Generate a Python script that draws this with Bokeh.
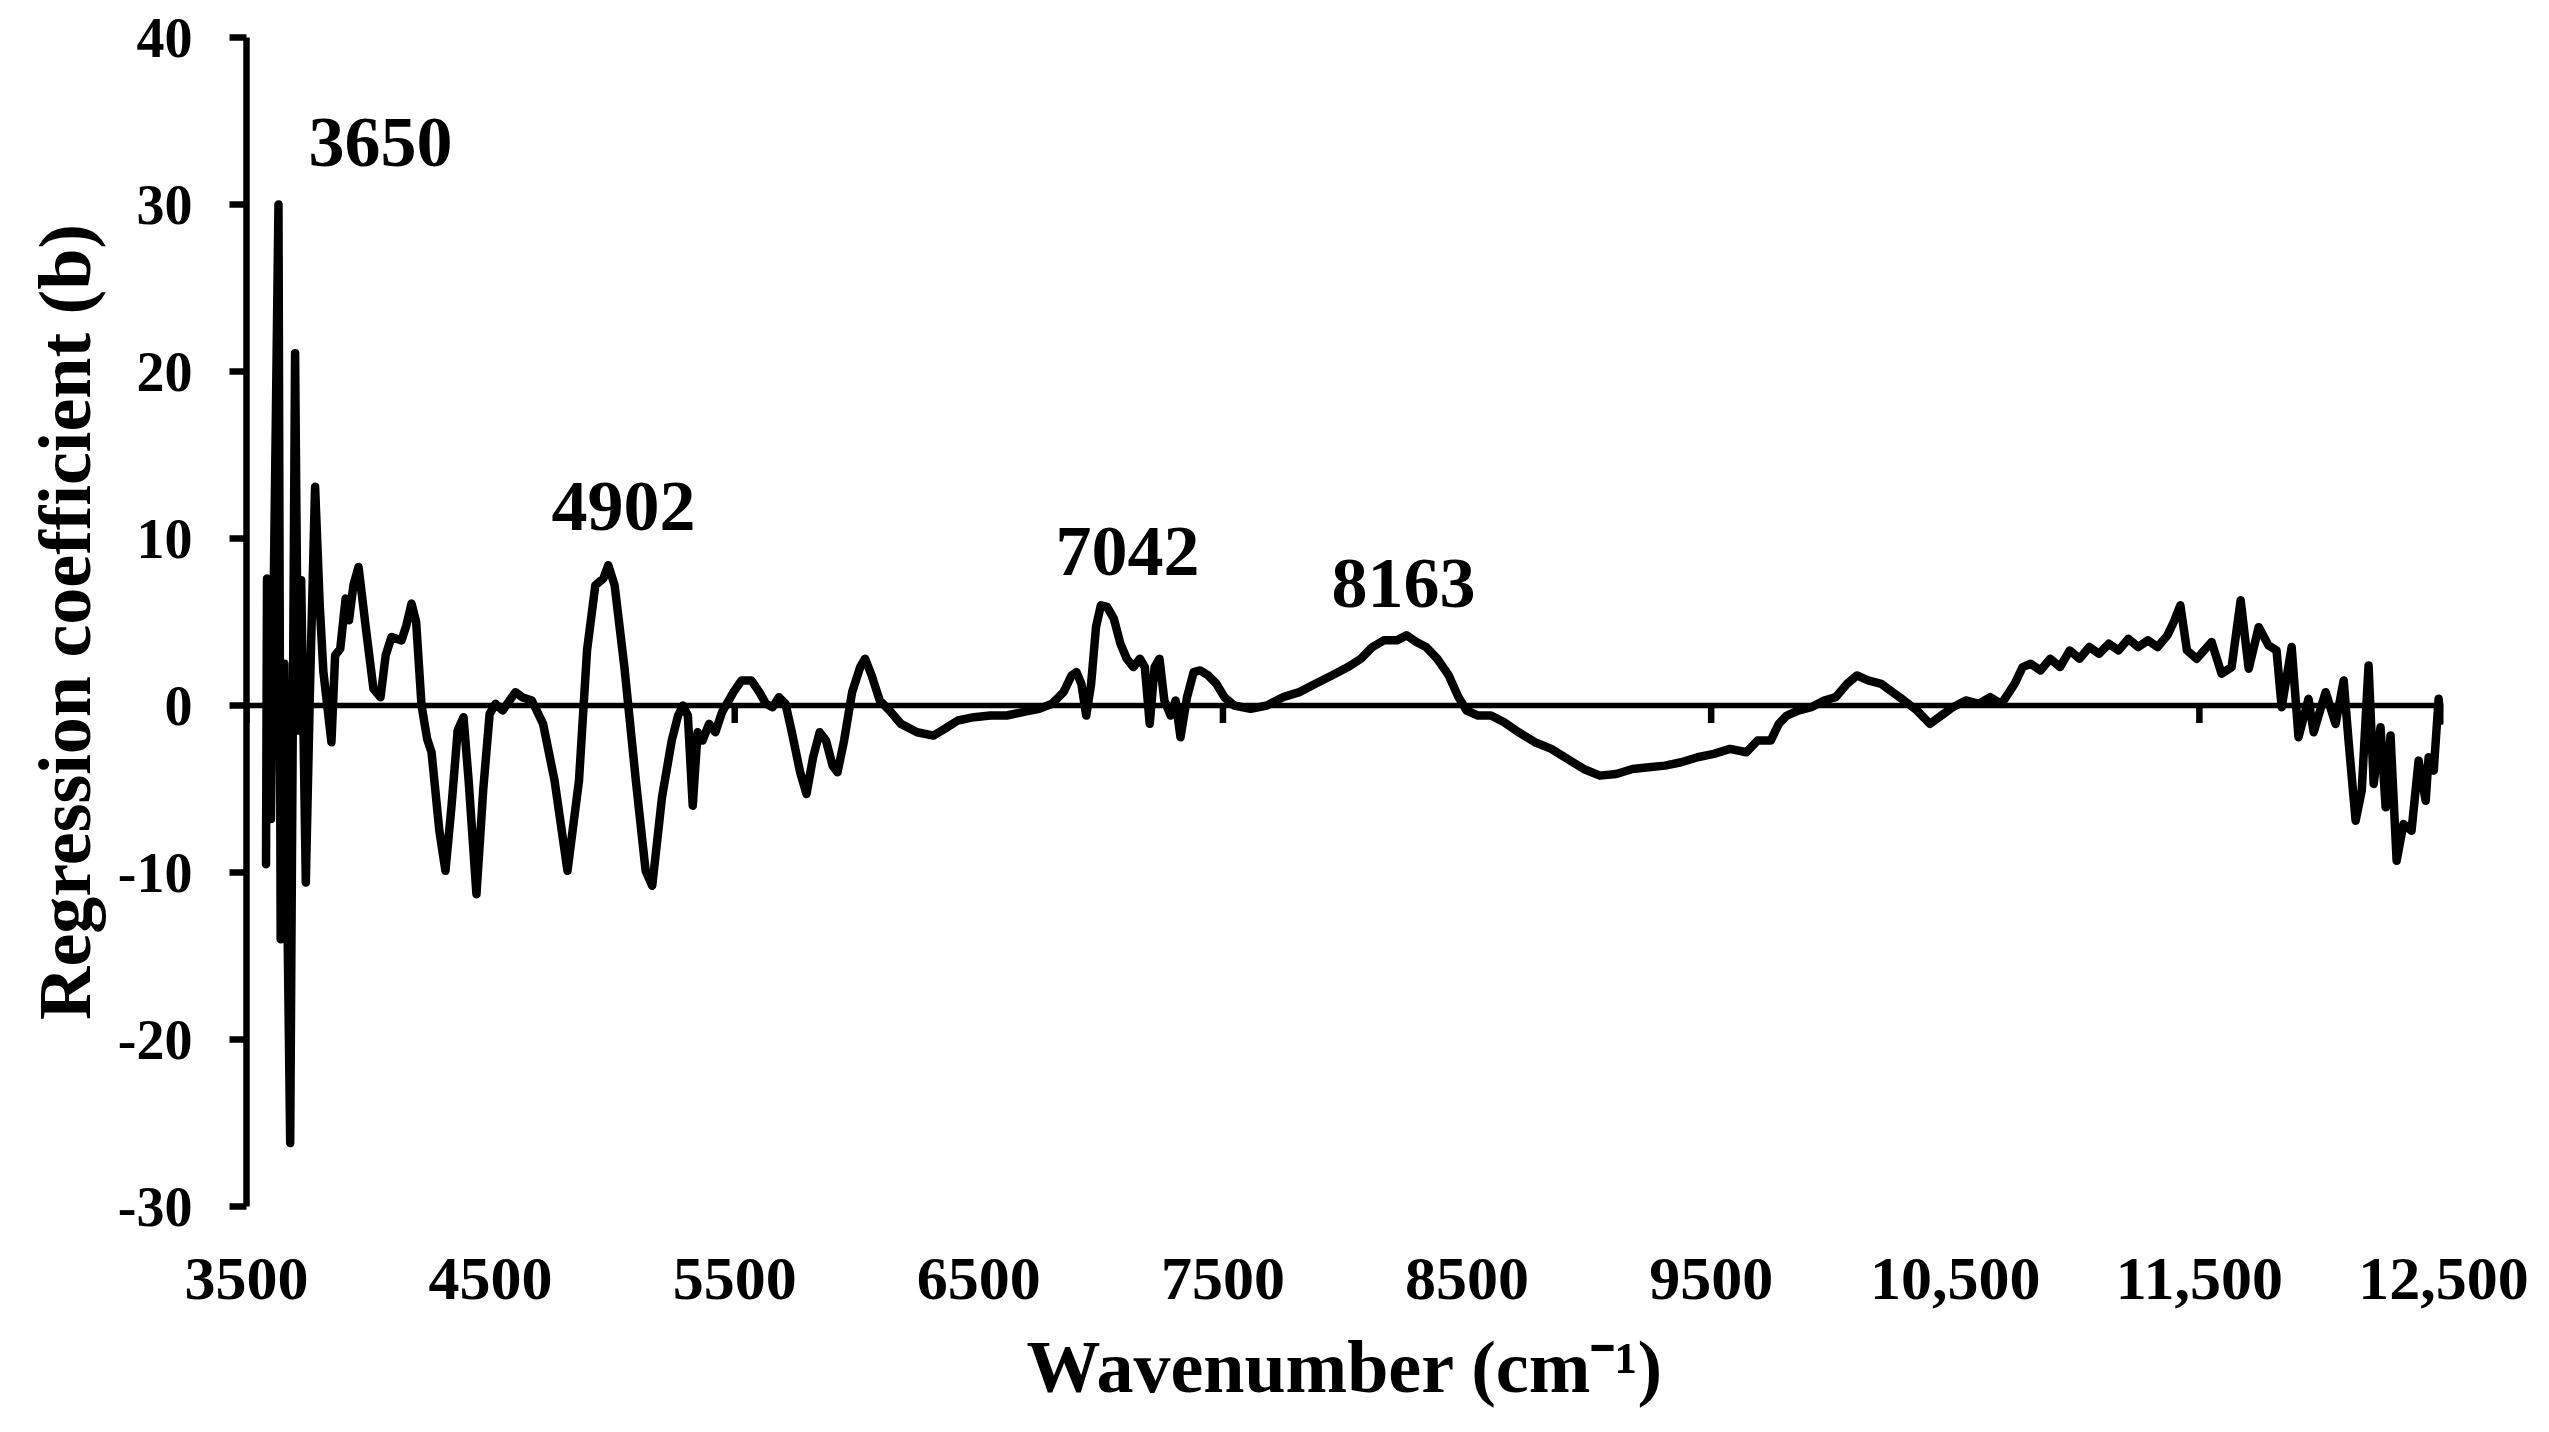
from bokeh.plotting import figure
from bokeh.models import Range1d, FixedTicker, Span, Label
from bokeh.embed import file_html
from bokeh.resources import INLINE

# ---------------- data ----------------
WAVENUMBER = [
    3580, 3584, 3594, 3600, 3631, 3640, 3655, 3679, 3699, 3712, 3724, 3743, 3760, 3781,
    3800, 3815, 3848, 3863, 3884, 3906, 3920, 3938, 3959, 3990, 4020, 4049, 4070, 4094,
    4135, 4155, 4176, 4195, 4217, 4240, 4258, 4290, 4315, 4340, 4365, 4389, 4410, 4442,
    4470, 4496, 4520, 4549, 4602, 4629, 4669, 4715, 4762, 4815, 4862, 4895, 4929, 4962,
    4982, 5008, 5048, 5095, 5135, 5162, 5202, 5242, 5268, 5288, 5308, 5328, 5348, 5368,
    5395, 5421, 5448, 5495, 5528, 5568, 5601, 5628, 5655, 5681, 5708, 5734, 5768, 5794,
    5821, 5848, 5874, 5901, 5921, 5948, 5981, 6014, 6034, 6061, 6094, 6134, 6181, 6247,
    6314, 6360, 6414, 6480, 6547, 6614, 6680, 6747, 6800, 6847, 6880, 6900, 6920, 6940,
    6960, 6980, 7000, 7026, 7053, 7080, 7106, 7133, 7160, 7180, 7200, 7220, 7240, 7260,
    7286, 7306, 7326, 7353, 7380, 7406, 7440, 7473, 7506, 7546, 7613, 7680, 7746, 7813,
    7879, 7946, 8012, 8065, 8112, 8159, 8212, 8252, 8292, 8332, 8378, 8425, 8465, 8498,
    8545, 8598, 8652, 8711, 8778, 8845, 8911, 8978, 9044, 9111, 9178, 9244, 9311, 9377,
    9444, 9511, 9577, 9644, 9690, 9744, 9777, 9810, 9857, 9910, 9963, 10010, 10057, 10097,
    10143, 10197, 10243, 10290, 10343, 10396, 10443, 10490, 10543, 10596, 10643, 10689, 10743, 10776,
    10809, 10849, 10889, 10929, 10969, 11009, 11049, 11089, 11129, 11169, 11209, 11249, 11289, 11329,
    11369, 11395, 11422, 11449, 11489, 11550, 11591, 11632, 11669, 11702, 11743, 11783, 11816, 11837,
    11878, 11906, 11947, 11968, 12017, 12058, 12091, 12111, 12140, 12165, 12193, 12214, 12242, 12263,
    12283, 12308, 12336, 12369, 12398, 12427, 12439, 12460, 12480, 12492,
]
COEFFICIENT = [
    -9.5, 7.6, 7.2, -6.8, 30.0, -14.0, 2.5, -26.2, 21.1, -1.5, 7.5, -10.6, 1.0, 13.1,
    6.0, 2.0, -2.2, 3.0, 3.4, 6.4, 5.1, 7.2, 8.3, 4.5, 1.0, 0.5, 3.0, 4.1,
    3.9, 4.8, 6.1, 5.0, 0.0, -2.0, -2.8, -7.5, -9.9, -6.0, -1.5, -0.7, -4.5, -11.3,
    -5.0, -0.5, 0.1, -0.3, 0.8, 0.5, 0.3, -1.1, -4.5, -9.9, -4.5, 3.3, 7.2, 7.6,
    8.4, 7.2, 2.3, -4.5, -9.9, -10.8, -5.5, -2.1, -0.6, 0.0, -0.6, -6.0, -1.6, -2.1,
    -1.1, -1.6, -0.4, 0.8, 1.5, 1.5, 0.8, 0.1, -0.1, 0.5, 0.1, -1.6, -4.0, -5.3,
    -3.1, -1.6, -2.1, -3.6, -4.0, -2.1, 0.8, 2.3, 2.8, 1.8, 0.3, -0.3, -1.1, -1.6,
    -1.8, -1.4, -0.9, -0.7, -0.6, -0.6, -0.4, -0.2, 0.1, 0.8, 1.8, 2.0, 1.3, -0.6,
    1.3, 4.7, 6.0, 5.9, 5.2, 3.7, 2.8, 2.3, 2.8, 2.3, -1.1, 2.3, 2.8, 0.3,
    -0.6, 0.3, -1.9, 0.5, 2.0, 2.1, 1.8, 1.3, 0.5, 0.0, -0.2, 0.0, 0.5, 0.8,
    1.3, 1.8, 2.3, 2.8, 3.5, 3.9, 3.9, 4.2, 3.8, 3.5, 2.8, 1.8, 0.5, -0.3,
    -0.6, -0.6, -1.0, -1.6, -2.2, -2.6, -3.2, -3.8, -4.2, -4.1, -3.8, -3.7, -3.6, -3.4,
    -3.1, -2.9, -2.6, -2.8, -2.1, -2.1, -1.1, -0.6, -0.3, -0.1, 0.3, 0.5, 1.3, 1.8,
    1.5, 1.3, 0.8, 0.3, -0.3, -1.1, -0.6, -0.1, 0.3, 0.1, 0.5, 0.1, 1.3, 2.3,
    2.5, 2.1, 2.8, 2.3, 3.3, 2.8, 3.5, 3.1, 3.7, 3.3, 4.0, 3.5, 3.9, 3.5,
    4.2, 5.0, 6.0, 3.3, 2.8, 3.8, 1.9, 2.3, 6.3, 2.2, 4.7, 3.6, 3.3, -0.1,
    3.5, -1.9, 0.4, -1.6, 0.8, -1.1, 1.5, -2.1, -6.9, -5.1, 2.4, -4.7, -1.3, -6.1,
    -1.8, -9.3, -7.1, -7.5, -3.3, -5.7, -3.1, -3.9, 0.4, -0.9,
]

Y_TICKS = [-30, -20, -10, 0, 10, 20, 30, 40]
Y_TICK_LABELS = ["-30", "-20", "-10", "0", "10", "20", "30", "40"]
X_TICKS = [3500, 4500, 5500, 6500, 7500, 8500, 9500, 10500, 11500, 12500]
X_TICK_LABELS = ["3500", "4500", "5500", "6500", "7500", "8500", "9500",
                 "10,500", "11,500", "12,500"]
ZERO_LINE_TICKS = [3500, 5500, 7500, 9500, 11500]

PEAK_LABELS = ["3650", "4902", "7042", "8163"]
PEAK_LABEL_X = [3754, 4749, 6814, 7945]
PEAK_LABEL_Y = [33.7, 11.9, 9.2, 7.3]

X_TITLE = "Wavenumber (cm\u207b\u00b9)"
Y_TITLE = "Regression coefficient (b)"

# ---------------- figure ----------------
FONT = "Liberation Serif"

p = figure(
    width=2536, height=1416,
    x_range=Range1d(X_TICKS[0], X_TICKS[-1]),
    y_range=Range1d(Y_TICKS[0], Y_TICKS[-1]),
    output_backend="svg", toolbar_location=None,
    min_border_left=246, min_border_top=37, min_border_bottom=210, min_border_right=93,
)
p.outline_line_color = None
p.xgrid.grid_line_color = None
p.ygrid.grid_line_color = None
p.background_fill_color = "white"
p.border_fill_color = "white"

# y axis
ya = p.yaxis[0]
ya.ticker = FixedTicker(ticks=Y_TICKS)
ya.major_label_overrides = {t: s for t, s in zip(Y_TICKS, Y_TICK_LABELS)}
ya.axis_line_width = 6.5
ya.axis_line_color = "black"
ya.major_tick_line_width = 6.5
ya.major_tick_line_color = "black"
ya.major_tick_out = 17
ya.major_tick_in = 0
ya.minor_tick_line_color = None
ya.major_label_text_font = FONT
ya.major_label_text_font_style = "bold"
ya.major_label_text_font_size = "56px"
ya.major_label_text_color = "black"
ya.major_label_standoff = 37
ya.axis_label = Y_TITLE
ya.axis_label_text_font = FONT
ya.axis_label_text_font_style = "bold"
ya.axis_label_text_font_size = "74px"
ya.axis_label_text_color = "black"
ya.axis_label_standoff = 9

# x axis (labels only, as in the reference)
xa = p.xaxis[0]
xa.ticker = FixedTicker(ticks=X_TICKS)
xa.major_label_overrides = {t: s for t, s in zip(X_TICKS, X_TICK_LABELS)}
xa.axis_line_color = None
xa.major_tick_line_color = None
xa.minor_tick_line_color = None
xa.major_tick_out = 0
xa.major_tick_in = 0
xa.major_label_text_font = FONT
xa.major_label_text_font_style = "bold"
xa.major_label_text_font_size = "62px"
xa.major_label_text_color = "black"
xa.major_label_standoff = 52
xa.axis_label = X_TITLE
xa.axis_label_text_font = FONT
xa.axis_label_text_font_style = "bold"
xa.axis_label_text_font_size = "74px"
xa.axis_label_text_color = "black"
xa.axis_label_standoff = 24

# zero line with its tick marks
p.add_layout(Span(location=0, dimension="width", line_color="black", line_width=5.5))
n = len(ZERO_LINE_TICKS)
p.segment(x0=ZERO_LINE_TICKS, y0=[0] * n, x1=ZERO_LINE_TICKS, y1=[-1.05] * n,
          line_color="black", line_width=6.5)

# spectrum of regression coefficients
p.line(WAVENUMBER, COEFFICIENT, line_color="black", line_width=8.5,
       line_join="round", line_cap="round")

# peak annotations
for txt, lx, ly in zip(PEAK_LABELS, PEAK_LABEL_X, PEAK_LABEL_Y):
    p.add_layout(Label(x=lx, y=ly, text=txt, text_font=FONT,
                       text_font_style="bold", text_font_size="72px",
                       text_color="black", text_align="left",
                       text_baseline="alphabetic"))

open("out.html", "w").write(file_html(p, INLINE, title="Regression coefficients"))
